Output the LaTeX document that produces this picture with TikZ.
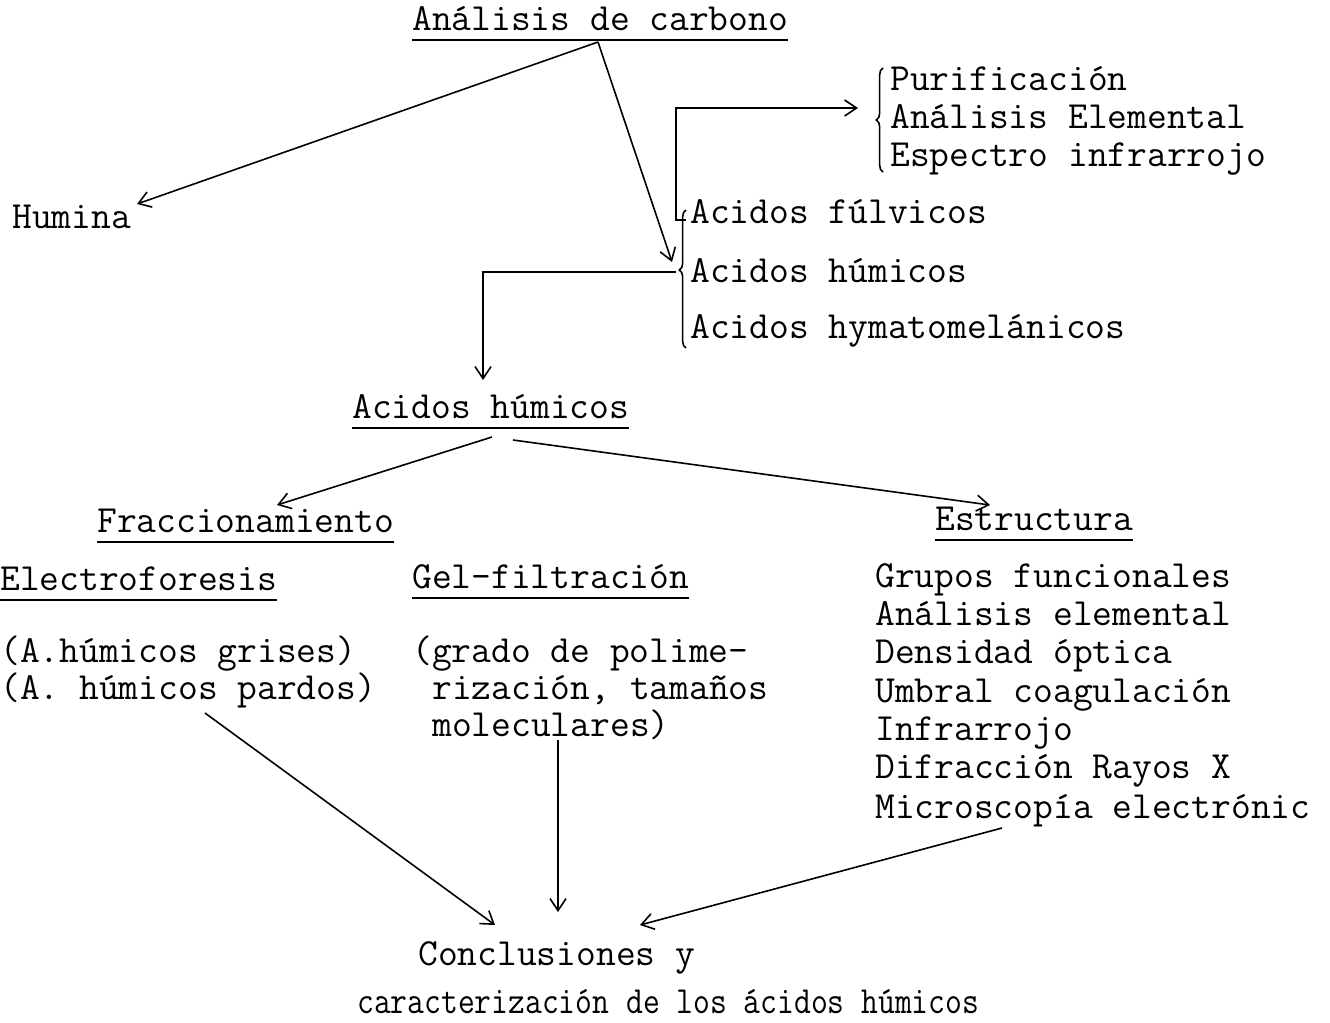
\documentclass[tikz,border=0pt]{standalone}
\usepackage{fontspec}
\usetikzlibrary{arrows.meta,decorations.pathreplacing,calc}
\begin{document}
\begin{tikzpicture}[x=0.75pt,y=-0.75pt,
 txt/.style={anchor=base west,inner sep=0pt,font=\ttfamily\fontsize{28.8}{34}\selectfont,text=black},
 con/.style={line width=1.2pt,-{Straight Barb[length=9pt,width=12pt,line width=1.2pt]}},
 ln/.style={line width=1.2pt},
 uline/.style={line width=1.6pt},
 brc/.style={line width=1.2pt,decorate,decoration={brace,amplitude=5pt}}]
\useasboundingbox (0,0) rectangle (1330,1022);

% texts
\node[txt] (carbono) at (412,30) {Análisis de carbono};
\node[txt] (humina) at (12,228) {Humina};
\node[txt] (purif) at (890,90) {Purificación};
\node[txt] (anel) at (890,128) {Análisis Elemental};
\node[txt] (espec) at (890,166) {Espectro infrarrojo};
\node[txt] (fulv) at (690,223) {Acidos fúlvicos};
\node[txt] (hum) at (690,282) {Acidos húmicos};
\node[txt] (hyma) at (690,338) {Acidos hymatomelánicos};
\node[txt] (ah) at (352,418) {Acidos húmicos};
\node[txt] (frac) at (97,532) {Fraccionamiento};
\node[txt] (estr) at (935,530) {Estructura};
\node[txt] (electro) at (0,590) {Electroforesis};
\node[txt] (gel) at (412,588) {Gel-filtración};
\node[txt] (grises) at (0,662) {(A.húmicos grises)};
\node[txt] (pardos) at (0,699) {(A. húmicos pardos)};
\node[txt] (grado) at (412,662) {(grado de polime-};
\node[txt] (riz) at (432,699) {rización, tamaños};
\node[txt] (molec) at (432,736) {moleculares)};
\node[txt] (e1) at (875,587) {Grupos funcionales};
\node[txt] (e2) at (875,625) {Análisis elemental};
\node[txt] (e3) at (875,663) {Densidad óptica};
\node[txt] (e4) at (875,702) {Umbral coagulación};
\node[txt] (e5) at (875,740) {Infrarrojo};
\node[txt] (e6) at (875,778) {Difracción Rayos X};
\node[txt] (e7) at (875,818) {Microscopía electrónic};
\node[txt] (concl) at (418,965) {Conclusiones y};
\node[txt] (caract) at (357,1013) {\scalebox{0.85}[1]{caracterización de los ácidos húmicos}};

% underlines
\foreach \n in {carbono,ah,frac,estr,electro,gel}
  \draw[uline] ([yshift=-7.5pt]\n.base west) -- ([yshift=-7.5pt]\n.base east);

% braces
\draw[brc] (883,172) -- (883,68);
\draw[brc,decoration={aspect=0.565}] (686,348) -- (686,210);

% connector points
\coordinate (c0) at (598,42);
\coordinate (huminaTip) at (137,204);
\coordinate (humTip) at (672,262);
\coordinate (cornerA) at (686,220);
\coordinate (cornerB) at (676,220);
\coordinate (cornerC) at (676,108);
\coordinate (purifTip) at (858,108);
\coordinate (humOut) at (676,272);
\coordinate (humBend) at (483,272);
\coordinate (ahTip) at (483,380);
\coordinate (ahL) at (492,437);
\coordinate (ahR) at (513,440);
\coordinate (fracTip) at (277,505);
\coordinate (estrTip) at (990,505);
\coordinate (elStart) at (205,713);
\coordinate (elTip) at (495,925);
\coordinate (gelStart) at (558,740);
\coordinate (gelTip) at (558,912);
\coordinate (esStart) at (1002,828);
\coordinate (esTip) at (640,925);

\draw[con] (c0) -- (huminaTip);
\draw[con] (c0) -- (humTip);
\draw[con] (cornerA) -- (cornerB) -- (cornerC) -- (purifTip);
\draw[con] (humOut) -- (humBend) -- (ahTip);
\draw[con] (ahL) -- (fracTip);
\draw[con] (ahR) -- (estrTip);
\draw[con] (elStart) -- (elTip);
\draw[con] (gelStart) -- (gelTip);
\draw[con] (esStart) -- (esTip);
\end{tikzpicture}
\end{document}
